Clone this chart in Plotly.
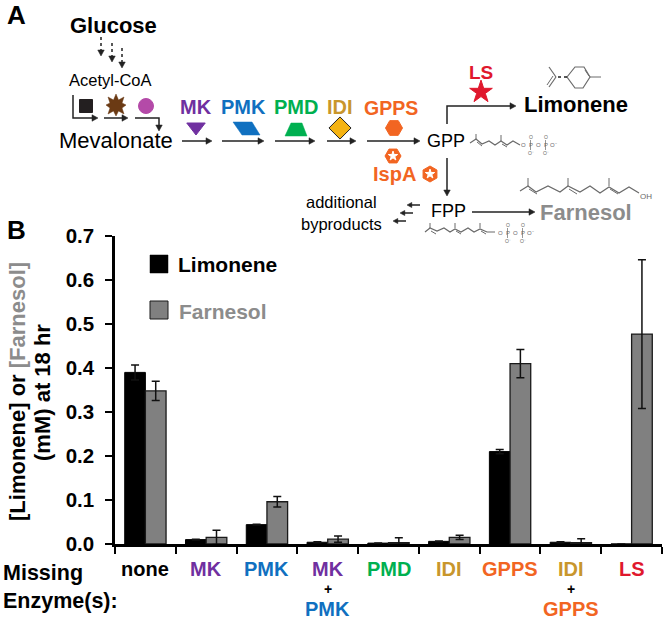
"""
Limonene pathway schematic with the missing-enzyme bar chart below it
"""
import plotly.graph_objects as go

FONT = 'Liberation Sans'
W, H = 666, 619

PURPLE = '#7030a0'
BLUE = '#1070c0'
GREEN = '#00b050'
GOLD = '#c8962c'
ORANGE = '#f26522'
RED = '#e0182d'
GRAY_TXT = '#8c8c8c'
STRUCT = '#6a6a6a'

categories = ['none', 'MK', 'PMK', 'MK + PMK', 'PMD', 'IDI', 'GPPS', 'IDI + GPPS', 'LS']
limonene = [0.390, 0.010, 0.044, 0.004, 0.002, 0.006, 0.210, 0.004, 0.0]
limonene_err = [0.017, 0.001, 0.001, 0.001, 0.0005, 0.001, 0.005, 0.001, 0.0]
farnesol = [0.348, 0.015, 0.096, 0.011, 0.003, 0.015, 0.410, 0.003, 0.477]
farnesol_err = [0.022, 0.016, 0.012, 0.007, 0.011, 0.005, 0.032, 0.009, 0.169]
y_ticks = [0, 0.1, 0.2, 0.3, 0.4, 0.5, 0.6, 0.7]

category_labels = [
    [('none', 'black')],
    [('MK', PURPLE)],
    [('PMK', BLUE)],
    [('MK', PURPLE), ('+', 'black'), ('PMK', BLUE)],
    [('PMD', GREEN)],
    [('IDI', GOLD)],
    [('GPPS', ORANGE)],
    [('IDI', GOLD), ('+', 'black'), ('GPPS', ORANGE)],
    [('LS', RED)],
]

shapes = []
annotations = []


def txt(x, y, s, size, color='black', bold=False, xref='x2', anchor='center', angle=0):
    annotations.append(dict(
        x=x, y=y, xref=xref, yref='y2', text=f'<b>{s}</b>' if bold else s,
        showarrow=False, xanchor=anchor, yanchor='middle', textangle=angle,
        font=dict(family=FONT, size=size, color=color),
        borderpad=0, borderwidth=0
    ))


def poly(pts, color='#222222', width=1.5, dash='solid', fill=None, close=False):
    path = 'M ' + ' L '.join(f'{x},{y}' for x, y in pts) + (' Z' if close else '')
    shapes.append(dict(
        type='path', xref='x2', yref='y2', path=path,
        line=dict(color=color, width=width, dash=dash),
        fillcolor=fill if fill else 'rgba(0,0,0,0)'
    ))


def arrow(pts, dash='solid', width=1.5, head=5):
    (x0, y0), (x1, y1) = pts[-2], pts[-1]
    d = ((x1 - x0) ** 2 + (y1 - y0) ** 2) ** 0.5
    ux, uy = (x1 - x0) / d, (y1 - y0) / d
    poly(pts[:-1] + [(x1 - ux * head, y1 - uy * head)], width=width, dash=dash)
    poly([(x1, y1),
          (x1 - ux * head * 1.2 - uy * head * 0.65, y1 - uy * head * 1.2 + ux * head * 0.65),
          (x1 - ux * head * 1.2 + uy * head * 0.65, y1 - uy * head * 1.2 - ux * head * 0.65)],
         color='#222222', width=0.5, fill='#222222', close=True)


def phosphates(x, y):
    # tiny O-P-O-P-O tail of the diphosphate drawings
    for i, s in enumerate(['O', 'P', 'O', 'P', 'O⁻']):
        txt(x + i * 7.5, y, s, 6, STRUCT)
    for px in (x + 7.5, x + 22.5):
        txt(px, y - 8, 'O', 5, STRUCT)
        txt(px, y + 8, 'O⁻', 5, STRUCT)
        poly([(px, y - 5), (px, y + 5)], color=STRUCT, width=0.7)


fig = go.Figure()

fig.add_trace(go.Bar(
    name='Limonene', x=categories, y=limonene,
    marker=dict(color='black', line=dict(color='black', width=1)),
    error_y=dict(type='data', array=limonene_err, color='#111111', thickness=1.5, width=4)
))
fig.add_trace(go.Bar(
    name='Farnesol', x=categories, y=farnesol,
    marker=dict(color='#808080', line=dict(color='#1a1a1a', width=1.3)),
    error_y=dict(type='data', array=farnesol_err, color='#111111', thickness=1.5, width=4)
))

# pathway glyphs, drawn on the full-page overlay axes
glyph_x = [86, 146, 196, 340, 394, 481, 393, 430, 393, 430]
glyph_y = [106, 106, 127, 128, 128, 92, 156, 174, 156, 174]
glyph_symbol = ['square', 'circle', 'triangle-down', 'diamond', 'hexagon2', 'star',
                'hexagon2', 'hexagon', 'star', 'star']
glyph_size = [13, 15, 16, 17, 17, 17, 16, 16, 7, 7]
glyph_color = ['#231f20', '#b44aa8', PURPLE, '#f5b312', ORANGE, RED, ORANGE, ORANGE, 'white', 'white']
glyph_line = ['#231f20', '#b44aa8', PURPLE, '#222222', ORANGE, RED, ORANGE, ORANGE, 'white', 'white']
fig.add_trace(go.Scatter(
    x=glyph_x, y=glyph_y, mode='markers', xaxis='x2', yaxis='y2', showlegend=False,
    marker=dict(symbol=glyph_symbol, size=glyph_size, color=glyph_color, opacity=1,
                line=dict(color=glyph_line, width=1))
))

# PMK parallelogram, PMD trapezoid, brown burst
poly([(233, 122), (252, 122), (260, 135), (242, 135)], color=BLUE, width=0.5, fill=BLUE, close=True)
poly([(291, 123), (302, 123), (307, 136), (285, 136)], color=GREEN, width=0.5, fill=GREEN, close=True)
burst = [(116, 94), (118.5, 100), (124, 97), (122, 103), (126, 105), (122, 108), (124, 114), (118.5, 111),
         (116, 116), (113.5, 111), (108, 114), (110, 108), (106, 105), (110, 103), (108, 97), (113.5, 100)]
poly(burst, color='#6b3a14', width=0.5, fill='#6b3a14', close=True)

# arrows
arrow([(101, 37), (101, 56)], dash='dot')
arrow([(112, 43), (112, 62)], dash='dot')
arrow([(122, 48), (122, 68)], dash='dot')
arrow([(73, 95), (73, 118), (98, 118)])
arrow([(104, 118), (128, 118)])
arrow([(135, 118), (159, 118), (159, 131)])
arrow([(182, 141), (212, 141)])
arrow([(222, 141), (264, 141)])
arrow([(275, 141), (315, 141)])
arrow([(327, 141), (356, 141)])
arrow([(367, 141), (420, 141)])
arrow([(447, 124), (447, 106), (516, 106)])
arrow([(447, 158), (447, 196)])
arrow([(472, 212), (535, 212)])
arrow([(420, 205), (407, 205)], head=4)
arrow([(413, 213), (400, 213)], head=4)
arrow([(406, 221), (393, 221)], head=4)

# limonene structure
poly([(567, 77), (575, 67), (584, 67), (590, 77), (583, 88), (575, 88)], color=STRUCT, width=1.2, close=True)
poly([(585, 70), (589, 76)], color=STRUCT, width=1)
poly([(590, 77), (601, 77)], color=STRUCT, width=1)
poly([(567, 77), (556, 77)], color='#222222', width=1.5, dash='dot')
poly([(556, 77), (549, 67)], color=STRUCT, width=1.2)
poly([(556, 77), (549, 87)], color=STRUCT, width=1.2)
poly([(553, 76), (547, 85)], color=STRUCT, width=1)

# GPP structure
poly([(470, 143), (476, 139), (482, 144), (489, 141), (495, 145), (501, 141), (507, 145),
      (513, 141), (520, 145)], color=STRUCT, width=1.2)
poly([(476, 139), (476, 134)], color=STRUCT, width=1)
poly([(501, 141), (501, 135)], color=STRUCT, width=1)
poly([(477, 142), (482, 146)], color=STRUCT, width=1)
poly([(502, 144), (507, 147)], color=STRUCT, width=1)
phosphates(523, 145)

# FPP structure
poly([(425, 232), (430, 228), (437, 231), (444, 228), (450, 232), (455, 229), (461, 232), (468, 228),
      (474, 232), (480, 229), (487, 232), (495, 232)], color=STRUCT, width=1.2)
for bx in (430, 455, 480):
    poly([(bx, 228), (bx, 223)], color=STRUCT, width=1)
    poly([(bx + 1, 231), (bx + 6, 234)], color=STRUCT, width=1)
phosphates(500, 233)

# farnesol structure
poly([(520, 191), (528, 186), (536, 192), (548, 186), (560, 192), (568, 186), (580, 192), (590, 186),
      (600, 193), (609, 187), (619, 193), (629, 187), (639, 193)], color=STRUCT, width=1.2)
for bx in (528, 568, 609):
    poly([(bx, 186), (bx, 178)], color=STRUCT, width=1)
    poly([(bx + 1, 189), (bx + 9, 194)], color=STRUCT, width=1)
txt(646, 196, 'OH', 8, STRUCT)

# pathway text
txt(16, 15, 'A', 26, bold=True)
txt(16, 230, 'B', 26, bold=True)
txt(113, 25, 'Glucose', 22, bold=True)
txt(110, 80, 'Acetyl-CoA', 16.5)
txt(116, 140, 'Mevalonate', 22)
txt(196, 107, 'MK', 20, PURPLE, True)
txt(243, 107, 'PMK', 20, BLUE, True)
txt(296, 107, 'PMD', 20, GREEN, True)
txt(340, 107, 'IDI', 20, GOLD, True)
txt(391, 108, 'GPPS', 19.5, ORANGE, True)
txt(481, 72, 'LS', 19, RED, True)
txt(576, 104, 'Limonene', 22, bold=True)
txt(446, 141, 'GPP', 18)
txt(448, 211, 'FPP', 18)
txt(586, 212, 'Farnesol', 22, GRAY_TXT, True)
txt(394, 174, 'IspA', 20, ORANGE, True)
txt(341, 202, 'additional', 16.5)
txt(341, 224, 'byproducts', 16.5)

# hand-placed legend
poly([(150, 255), (168, 255), (168, 273), (150, 273)], color='black', width=0.5, fill='black', close=True)
poly([(150, 301), (168, 301), (168, 319), (150, 319)], color='#1a1a1a', width=1, fill='#808080', close=True)
txt(178, 264, 'Limonene', 21, bold=True, anchor='left')
txt(179, 311, 'Farnesol', 21, GRAY_TXT, True, anchor='left')

# y axis title
txt(17, 392, f'[Limonene] or <span style="color:{GRAY_TXT}">[Farnesol]</span>', 22, bold=True, angle=-90)
txt(42, 393, '(mM) at 18 hr', 22, bold=True, angle=-90)

# x labels
txt(3, 573, 'Missing', 21.5, bold=True, anchor='left')
txt(3, 601, 'Enzyme(s):', 21.5, bold=True, anchor='left')
for cat, lines in zip(categories, category_labels):
    for row, (label, color) in enumerate(lines):
        txt(cat, 569 + row * 20, label, 14 if label == '+' else 20, color, True, xref='x')

fig.update_layout(
    width=W, height=H,
    margin=dict(l=0, r=0, t=0, b=0, autoexpand=False),
    paper_bgcolor='white',
    plot_bgcolor='rgba(0,0,0,0)',
    barmode='group',
    bargap=0.32,
    bargroupgap=0,
    showlegend=False,
    shapes=shapes,
    annotations=annotations,
    xaxis=dict(
        domain=[115 / W, 662 / W], type='category', categoryorder='array', categoryarray=categories,
        showticklabels=False, showgrid=False, zeroline=False, anchor='y',
        ticks='outside', tickson='boundaries', ticklen=7, tickwidth=2, tickcolor='black',
        showline=True, linecolor='black', linewidth=3
    ),
    yaxis=dict(
        domain=[(H - 544) / H, (H - 236) / H], range=[0, 0.7], anchor='x',
        tickvals=y_ticks, tickformat='.1f', showgrid=False, zeroline=False,
        tickfont=dict(family=FONT, size=20.5, color='black', weight=700),
        ticks='outside', ticklen=7, tickwidth=2, tickcolor='black', ticklabelstandoff=7,
        showline=True, linecolor='black', linewidth=2.5
    ),
    xaxis2=dict(domain=[0, 1], range=[0, W], visible=False, anchor='y2', fixedrange=True),
    yaxis2=dict(domain=[0, 1], range=[H, 0], visible=False, anchor='x2', fixedrange=True),
)

fig.write_html("out.html", config=dict(displayModeBar=False),
               post_script="document.body.style.margin='0';")
